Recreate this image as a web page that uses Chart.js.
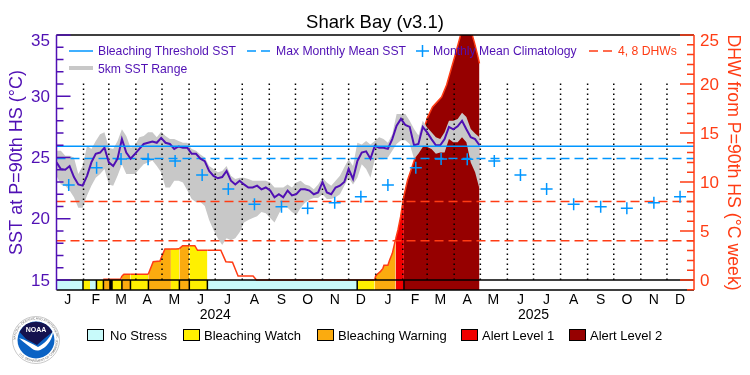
<!DOCTYPE html>
<html>
<head>
<meta charset="utf-8">
<title>Shark Bay (v3.1)</title>
<script src="https://cdn.jsdelivr.net/npm/chart.js@4"></script>
<style>
  body { margin: 0; background: #fff; font-family: "Liberation Sans", sans-serif; }
  #wrap { position: relative; width: 750px; height: 375px; overflow: hidden; }
  canvas { position: absolute; left: 0; top: 0; }
  .lbl { position: absolute; font-size: 13px; line-height: 16px; white-space: nowrap; }
  .top { font-size: 12.2px; }
  .purple { color: #5010b4; }
  .black { color: #000; }
  .orange { color: #ff3c14; }
  .box { position: absolute; width: 15px; height: 10px; border: 1.5px solid #000; top: 329px; }
  svg { position: absolute; }
</style>
</head>
<body>
<div id="wrap">
  <canvas id="chart" width="750" height="375"></canvas>

  <!-- legend inside the plot -->
  <svg style="left:0;top:0" width="750" height="80">
    <line x1="69" x2="93" y1="51" y2="51" stroke="#0096ff" stroke-width="1.5"/>
    <line x1="247" x2="270" y1="51" y2="51" stroke="#0096ff" stroke-width="1.5" stroke-dasharray="9 5"/>
    <path d="M416 51h13M422.5 45v12" stroke="#0096ff" stroke-width="1.5" fill="none"/>
    <line x1="589" x2="612" y1="51" y2="51" stroke="#ff3c14" stroke-width="1.5" stroke-dasharray="9 5"/>
    <line x1="69" x2="93" y1="68" y2="68" stroke="#c8c8c8" stroke-width="4"/>
  </svg>
  <div class="lbl top purple" style="left:98px;top:43px">Bleaching Threshold SST</div>
  <div class="lbl top purple" style="left:276px;top:43px">Max Monthly Mean SST</div>
  <div class="lbl top purple" style="left:433px;top:43px">Monthly Mean Climatology</div>
  <div class="lbl top orange" style="left:618px;top:43px">4, 8 DHWs</div>
  <div class="lbl top purple" style="left:98px;top:61px">5km SST Range</div>

  <!-- status legend -->
  <div class="box" style="left:87px;background:#c8fafa"></div>
  <div class="lbl black" style="left:110px;top:328px">No Stress</div>
  <div class="box" style="left:183px;background:#fff000"></div>
  <div class="lbl black" style="left:204px;top:328px">Bleaching Watch</div>
  <div class="box" style="left:317px;background:#fbab0f"></div>
  <div class="lbl black" style="left:338px;top:328px">Bleaching Warning</div>
  <div class="box" style="left:461px;background:#f00000"></div>
  <div class="lbl black" style="left:482px;top:328px">Alert Level 1</div>
  <div class="box" style="left:569px;background:#960000"></div>
  <div class="lbl black" style="left:590px;top:328px">Alert Level 2</div>

  <!-- NOAA logo -->
  <svg style="left:12px;top:316px" width="48" height="48" viewBox="0 0 48 48">
    <defs>
      <path id="ringTop" d="M3.5 24 A20.5 20.5 0 0 1 44.5 24"/>
      <path id="ringBottom" d="M2 24 A22 22 0 0 0 46 24"/>
    </defs>
    <circle cx="24" cy="24" r="23.5" fill="#fff" stroke="#bbb" stroke-width="0.8"/>
    <text font-size="3.2" fill="#666" font-family="Liberation Sans"><textPath href="#ringTop">NATIONAL OCEANIC AND ATMOSPHERIC ADMINISTRATION</textPath></text>
    <text font-size="3.2" fill="#666" font-family="Liberation Sans"><textPath href="#ringBottom" startOffset="22%">U.S. DEPARTMENT OF COMMERCE</textPath></text>
    <circle cx="24" cy="24" r="18.5" fill="#0a62c4"/>
    <path d="M7.5 16 A18.5 18.5 0 0 1 40.5 16 L33 22 L25 29 L14 23 Z" fill="#14124f"/>
    <path d="M7 22 C14 24 20 28 26 31 C32 28 37 23 41 15 C41 22 36 30 30 33 C25 36 21 34 18 31 C14 28 10 25 7 22 Z" fill="#fff"/>
    <text x="24" y="16" text-anchor="middle" font-size="7" font-weight="bold" fill="#fff" font-family="Liberation Sans">NOAA</text>
  </svg>
</div>

<script>
const sstDays = [
  0, 5, 10, 15, 20, 25, 30, 35, 40, 45, 50, 55, 60, 65, 70, 75, 80, 85, 90, 95,
  100, 105, 110, 115, 120, 125, 130, 135, 140, 145, 150, 155, 160, 165, 170, 175, 180, 185, 190, 195,
  200, 205, 210, 215, 220, 225, 230, 235, 240, 245, 250, 255, 260, 265, 270, 275, 280, 285, 290, 295,
  300, 305, 310, 315, 320, 325, 330, 335, 340, 345, 350, 355, 360, 365, 370, 375, 380, 385, 390, 395,
  400, 405, 410, 415, 420, 425, 430, 435, 440, 445, 450, 455, 460, 465, 470, 475, 480, 485
];
const sstValues = [
  24.6, 24.05, 24.0, 24.3, 23.4, 22.8, 22.7, 23.5, 24.6, 25.3,
  25.4, 25.8, 24.6, 24.3, 24.9, 26.5, 25.4, 24.9, 25.3, 25.7,
  26.1, 26.2, 26.3, 26.2, 26.6, 26.2, 26.1, 25.7, 25.9, 25.8,
  25.8, 25.3, 25.3, 24.9, 24.7, 23.9, 23.5, 23.3, 23.4, 23.9,
  23.1, 22.8, 23.1, 22.8, 22.55, 22.55, 22.7, 22.4, 22.55, 22.3,
  21.75, 22.0, 21.75, 22.3, 21.9, 22.0, 22.4, 22.4, 22.3, 22.0,
  22.15, 23.0, 22.15, 22.0, 22.55, 22.7, 23.0, 24.05, 23.25, 24.7,
  25.4, 25.5, 24.9, 25.95, 25.8, 25.8, 25.7, 26.5, 27.6, 28.15,
  27.65, 27.5, 26.0, 26.1, 27.5, 27.05, 26.5, 26.0, 26.0, 26.5,
  27.5, 27.3, 27.55, 28.0, 27.3, 26.65, 26.5, 26.0
];
const rangeMax = [
  25.55, 25.55, 25.15, 25.15, 25.0, 23.65, 24.3, 25.95, 25.7, 26.35,
  26.9, 27.05, 25.8, 25.7, 26.35, 27.3, 26.75, 25.8, 25.95, 26.65,
  26.75, 27.05, 27.05, 26.65, 27.1, 26.75, 26.5, 26.5, 26.35, 26.2,
  26.2, 25.7, 25.55, 25.25, 25.0, 24.3, 24.05, 23.8, 23.9, 24.3,
  23.5, 23.25, 23.35, 23.35, 23.25, 23.1, 23.1, 23.1, 23.1, 22.95,
  22.55, 22.55, 22.55, 22.8, 22.55, 22.95, 23.1, 22.8, 22.7, 22.4,
  22.8, 23.35, 22.95, 22.7, 23.1, 23.5, 24.2, 24.85, 24.3, 26.2,
  26.05, 26.35, 26.05, 26.35, 26.65, 26.5, 26.2, 26.9, 28.55, 28.55,
  28.55, 28.0, 27.33, 26.8, 28.0, 27.45, 27.05, 26.65, 26.5, 27.05,
  28.0, 28.0, 28.15, 28.65, 28.3, 27.33, 26.95, 26.65
];
const rangeMin = [
  23.5, 22.8, 22.7, 22.3, 21.75, 20.9, 20.9, 21.9, 22.7, 23.35,
  23.65, 24.05, 22.8, 22.7, 23.5, 24.45, 23.65, 23.65, 23.65, 24.05,
  24.45, 24.6, 24.75, 24.3, 23.8, 22.55, 22.55, 23.1, 23.1, 22.95,
  22.3, 21.6, 21.35, 21.37, 21.04, 19.9, 19.08, 18.4, 17.85, 18.4,
  18.25, 18.4, 18.9, 19.7, 19.9, 20.05, 20.2, 20.55, 20.45, 20.05,
  19.7, 20.4, 21.05, 20.9, 20.55, 20.3, 20.9, 21.3, 21.55, 21.7,
  21.7, 22.0, 21.6, 21.6, 21.75, 22.0, 22.7, 23.35, 22.8, 23.35,
  24.45, 24.05, 23.35, 24.85, 24.85, 24.85, 25.0, 25.55, 26.1, 26.4,
  26.4, 26.1, 24.9, 25.3, 25.85, 25.85, 25.7, 25.3, 25.4, 25.4,
  26.5, 26.25, 26.25, 26.65, 26.25, 24.6, 23.8, 22.45
];

const dhwDays = [
  53.6, 73.5, 75, 77.3, 84.8, 105.2, 107.1, 110.9, 118.6, 124.3, 131.2, 136.9, 140.9, 144.6, 152.3, 158.6, 161.7, 173, 188.4, 194.2, 201.8, 208.2, 225.4, 229.3,
  364.8, 366, 368.1, 371.3, 374.3, 375.5, 380, 382, 385.1, 387.7, 388.9, 391.5, 394.6, 397.2, 398.4, 402.6, 408.4, 414.1, 419.8, 425.5, 431.2, 441.6, 447.3, 456.5, 463.4, 467.9, 476.7, 479.3, 482.7, 485
];
const dhwValues = [
  0.07, 0.07, 0.41, 0.58, 0.58, 0.58, 1.02, 1.87, 1.94, 3.16, 3.16, 3.16, 3.2, 3.5, 3.5, 3.5, 3.03, 3.03, 3.03, 1.87, 1.82, 0.41, 0.41, 0,
  0, 0.41, 0.61, 0.85, 1.19, 1.5, 1.5, 2.04, 2.72, 3.74, 4.2, 5.1, 6.46, 8, 8.6, 10.2, 11.7, 13.27, 15, 16.6, 17.65, 18.67, 19.9, 22.75, 25, 25.4, 25, 24.2, 23, 22.1
];

const climDays = [14, 46, 74, 105, 136, 167, 197, 227, 258, 288, 319, 349, 380, 412, 441, 471, 502, 532, 562, 593, 624, 654, 685, 715];
const climValues = [
  22.76, 24.17, 24.88, 24.85, 24.71, 23.57, 22.43, 21.18, 20.98, 20.85, 21.31, 21.8,
  22.76, 24.17, 24.88, 24.85, 24.71, 23.57, 22.43, 21.18, 20.98, 20.85, 21.31, 21.8
];

const thresholdSst = 25.91;
const maxMonthlyMean = 24.92;
const dhwLevels = [4, 8];

// status bar: start day, end day and level of every stretch
const statusStart = [0, 30.4, 38.4, 45.8, 53.8, 61.3, 63.6, 75, 84.8, 105.4, 131.2, 140.9, 152.3, 173, 344.8, 364.8, 388.9, 398.4];
const statusEnd = [30.4, 38.4, 45.8, 53.8, 61.3, 63.6, 75, 84.8, 105.4, 131.2, 140.9, 152.3, 173, 344.8, 364.8, 388.9, 398.4, 485];
const statusLevel = [0, 1, 0, 1, 2, 5, 1, 2, 1, 2, 1, 2, 1, 0, 1, 2, 3, 4];
const statusLines = [30.4, 45.8, 53.8, 61.3, 63.6, 75, 84.8, 105.4, 140.9, 152.3, 173, 344.8, 398.4];

// stretches of the area under the DHW curve
const fillStart = [75, 84.8, 105.2, 131.2, 140.9, 152.3, 364.8, 388.9, 398.4];
const fillEnd = [84.8, 105.2, 131.2, 140.9, 152.3, 173, 388.9, 398.4, 485];
const fillLevel = [2, 1, 2, 1, 2, 1, 2, 3, 4];

const monthStarts = [31, 60, 91, 121, 152, 182, 213, 244, 274, 305, 335, 366, 397, 425, 456, 486, 517, 547, 578, 609, 639, 670, 700];
const monthMids = [13, 45, 74, 104, 135, 165, 196, 227, 258, 288, 319, 349, 380, 411, 440, 471, 501, 532, 562, 593, 624, 654, 685, 715];
const monthLabels = ['J', 'F', 'M', 'A', 'M', 'J', 'J', 'A', 'S', 'O', 'N', 'D', 'J', 'F', 'M', 'A', 'M', 'J', 'J', 'A', 'S', 'O', 'N', 'D'];
const yearDays = [182, 547];
const yearLabels = ['2024', '2025'];

const statusColors = ['#c8fafa', '#fff000', '#fbab0f', '#f00000', '#960000', '#000000'];

const PURPLE = '#5010b4';
const ORANGE = '#ff3c14';
const BLUE = '#0096ff';
const FONT = '"Liberation Sans", sans-serif';

const SST_MIN = 14.18, SST_MAX = 35, DHW_MIN = -1.02, DHW_MAX = 25, DAY_MAX = 731;
const GRID_TOP = 31.33;

function zip(xs, ys) {
    return xs.map((x, i) => ({ x: x, y: ys[i] }));
}

// one dataset for many separate vertical lines, broken by null points
function verticals(days, from, to) {
    const pts = [];
    days.forEach(d => {
        pts.push({ x: d, y: from }, { x: d, y: to }, { x: d, y: null });
    });
    return pts;
}

function dhwLines() {
    const pts = [];
    dhwLevels.forEach(v => {
        pts.push({ x: 0, y: v }, { x: DAY_MAX, y: v }, { x: DAY_MAX, y: null });
    });
    return pts;
}

const statusBars = statusStart.map((s, i) => ({
    data: [{ x: s, y: 15 }, { x: statusEnd[i], y: 15 }],
    yAxisID: 'y',
    borderWidth: 0,
    pointRadius: 0,
    backgroundColor: statusColors[statusLevel[i]],
    fill: 'start',
    order: 9
}));

function dhwFill(ctx) {
    const day = ctx.p0.parsed.x;
    for (let i = 0; i < fillStart.length; i++) {
        if (day >= fillStart[i] && day < fillEnd[i]) return statusColors[fillLevel[i]];
    }
    return 'rgba(0,0,0,0)';
}

// inward ticks, tick labels and the frame, drawn from the chart's own scales
const frame = {
    id: 'frame',
    afterDatasetsDraw(chart) {
        const { ctx, chartArea: a, scales } = chart;
        ctx.save();
        ctx.lineWidth = 1.5;
        ctx.strokeStyle = '#000';
        ctx.beginPath();
        ctx.moveTo(a.left, a.top); ctx.lineTo(a.right, a.top);
        ctx.moveTo(a.left, a.bottom); ctx.lineTo(a.right, a.bottom);
        ctx.stroke();

        ctx.font = '17px ' + FONT;
        ctx.textBaseline = 'middle';

        ctx.strokeStyle = PURPLE;
        ctx.fillStyle = PURPLE;
        ctx.textAlign = 'right';
        ctx.beginPath();
        ctx.moveTo(a.left, a.top); ctx.lineTo(a.left, a.bottom);
        scales.y.ticks.forEach(t => {
            const py = scales.y.getPixelForValue(t.value);
            const major = t.value % 5 === 0;
            ctx.moveTo(a.left, py);
            ctx.lineTo(a.left + (major ? 14 : 7), py);
            if (major) ctx.fillText(String(t.value), 50, py + (t.value === SST_MAX ? 6 : 1));
        });
        ctx.stroke();

        ctx.strokeStyle = ORANGE;
        ctx.fillStyle = ORANGE;
        ctx.textAlign = 'left';
        ctx.beginPath();
        ctx.moveTo(a.right, a.top); ctx.lineTo(a.right, a.bottom);
        scales.y2.ticks.forEach(t => {
            const py = scales.y2.getPixelForValue(t.value);
            const major = t.value % 5 === 0;
            ctx.moveTo(a.right, py);
            ctx.lineTo(a.right - (major ? 14 : 7), py);
            if (major) ctx.fillText(String(t.value), 700, py + (t.value === DHW_MAX ? 6 : 1));
        });
        ctx.stroke();
        ctx.restore();
    }
};

new Chart(document.getElementById('chart'), {
    type: 'line',
    data: {
        datasets: [
            ...statusBars,
            {
                label: 'DHW',
                data: zip(dhwDays, dhwValues),
                yAxisID: 'y2',
                borderColor: ORANGE,
                borderWidth: 1.5,
                pointRadius: 0,
                fill: { value: 0 },
                backgroundColor: 'rgba(0,0,0,0)',
                segment: { backgroundColor: dhwFill },
                order: 8
            },
            {
                label: '5km SST Range',
                data: zip(sstDays, rangeMax),
                yAxisID: 'y',
                borderWidth: 0,
                pointRadius: 0,
                backgroundColor: '#c8c8c8',
                fill: '+1',
                order: 7
            },
            {
                label: 'range low',
                data: zip(sstDays, rangeMin),
                yAxisID: 'y',
                borderWidth: 0,
                pointRadius: 0,
                fill: false,
                order: 7
            },
            {
                label: 'months',
                data: verticals(monthStarts, 15, GRID_TOP),
                yAxisID: 'y',
                borderColor: '#000',
                borderWidth: 1.5,
                borderDash: [1.5, 3.5],
                pointRadius: 0,
                fill: false,
                order: 6
            },
            {
                label: '4, 8 DHWs',
                data: dhwLines(),
                yAxisID: 'y2',
                borderColor: ORANGE,
                borderWidth: 1.5,
                borderDash: [9, 5],
                pointRadius: 0,
                fill: false,
                order: 5
            },
            {
                label: 'Max Monthly Mean SST',
                data: [{ x: 0, y: maxMonthlyMean }, { x: DAY_MAX, y: maxMonthlyMean }],
                yAxisID: 'y',
                borderColor: BLUE,
                borderWidth: 1.5,
                borderDash: [9, 5],
                pointRadius: 0,
                fill: false,
                order: 4
            },
            {
                label: 'Monthly Mean Climatology',
                data: zip(climDays, climValues),
                yAxisID: 'y',
                showLine: false,
                pointStyle: 'cross',
                pointRadius: 6,
                pointBorderColor: BLUE,
                pointBorderWidth: 1.5,
                fill: false,
                order: 3
            },
            {
                label: 'SST',
                data: zip(sstDays, sstValues),
                yAxisID: 'y',
                borderColor: PURPLE,
                borderWidth: 2,
                pointRadius: 0,
                fill: false,
                order: 2
            },
            {
                label: 'Bleaching Threshold SST',
                data: [{ x: 0, y: thresholdSst }, { x: DAY_MAX, y: thresholdSst }],
                yAxisID: 'y',
                borderColor: BLUE,
                borderWidth: 1.5,
                pointRadius: 0,
                fill: false,
                order: 1
            },
            {
                label: 'status top',
                data: [{ x: 0, y: 15 }, { x: DAY_MAX, y: 15 }],
                yAxisID: 'y',
                borderColor: '#000',
                borderWidth: 1.5,
                pointRadius: 0,
                fill: false,
                order: 0
            },
            {
                label: 'status lines',
                data: verticals(statusLines, SST_MIN, 15),
                yAxisID: 'y',
                borderColor: '#000',
                borderWidth: 1.5,
                pointRadius: 0,
                fill: false,
                order: 0
            }
        ]
    },
    options: {
        responsive: false,
        animation: false,
        layout: { padding: 0 },
        plugins: {
            legend: { display: false },
            tooltip: { enabled: false },
            title: {
                display: true,
                text: 'Shark Bay (v3.1)',
                color: '#000',
                font: { family: FONT, size: 18.5, weight: 'normal', lineHeight: 1 },
                padding: { top: 14, bottom: 2.5 }
            }
        },
        scales: {
            x: {
                type: 'linear',
                min: 0,
                max: DAY_MAX,
                grid: { display: false, drawTicks: false },
                border: { display: false },
                afterBuildTicks: scale => {
                    const all = monthMids.map(d => ({ value: d }))
                        .concat(yearDays.map(d => ({ value: d })));
                    scale.ticks = all.sort((a, b) => a.value - b.value);
                },
                afterTickToLabelConversion: scale => {
                    scale.ticks.forEach(t => {
                        const m = monthMids.indexOf(t.value);
                        const y = yearDays.indexOf(t.value);
                        t.label = m >= 0 ? monthLabels[m] : ['', yearLabels[y]];
                    });
                },
                afterFit: scale => { scale.height = 85; },
                ticks: {
                    autoSkip: false,
                    maxRotation: 0,
                    minRotation: 0,
                    padding: 3,
                    color: '#000',
                    font: { family: FONT, size: 14, lineHeight: 1.05 }
                }
            },
            y: {
                position: 'left',
                min: SST_MIN,
                max: SST_MAX,
                grid: { display: false, drawTicks: false },
                border: { display: false },
                afterFit: scale => { scale.width = 56.5; },
                ticks: { display: false, stepSize: 1, includeBounds: false },
                title: {
                    display: true,
                    text: 'SST at P=90th HS (°C)',
                    color: PURPLE,
                    font: { family: FONT, size: 18 },
                    padding: { top: 6, bottom: 0 }
                }
            },
            y2: {
                position: 'right',
                min: DHW_MIN,
                max: DHW_MAX,
                grid: { display: false, drawTicks: false },
                border: { display: false },
                afterFit: scale => { scale.width = 56; },
                ticks: { display: false, stepSize: 1, includeBounds: false },
                title: {
                    display: true,
                    text: 'DHW from P=90th HS (°C week)',
                    color: ORANGE,
                    font: { family: FONT, size: 17.7 },
                    padding: { top: 6, bottom: 0 }
                }
            }
        }
    },
    plugins: [frame]
});
</script>
</body>
</html>
